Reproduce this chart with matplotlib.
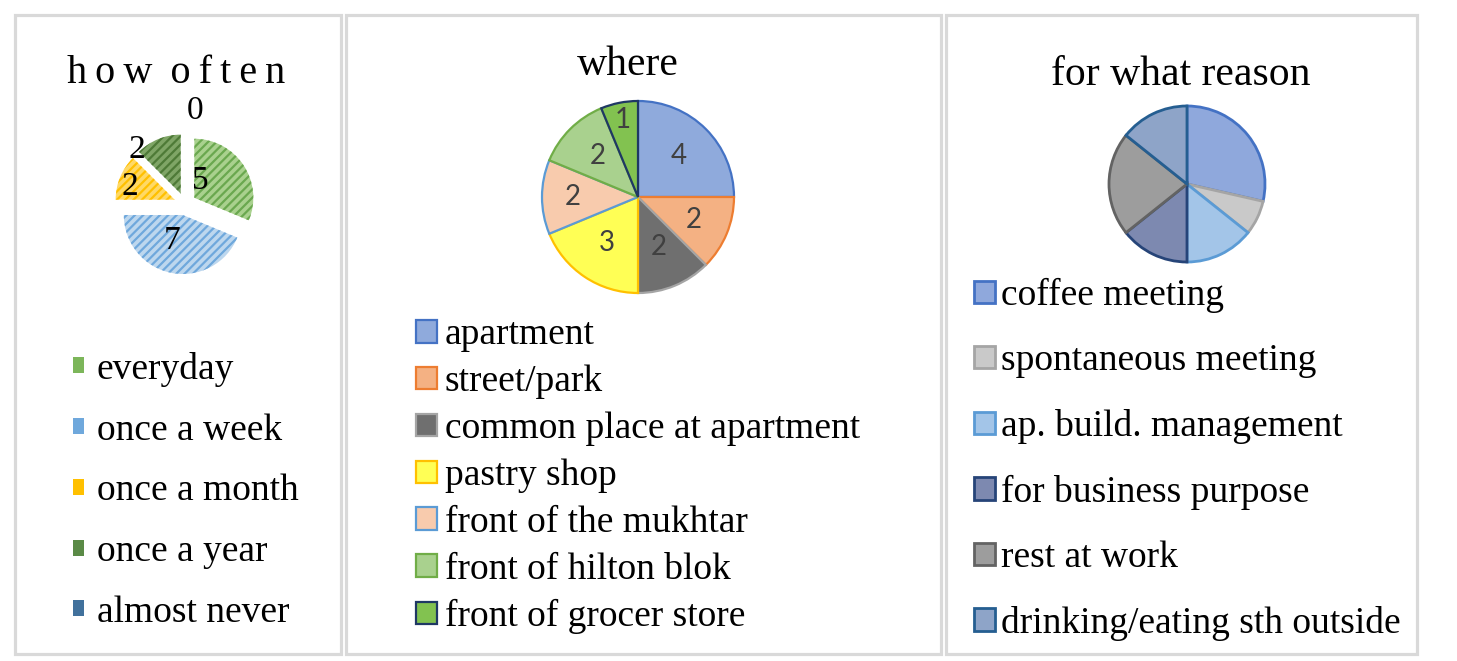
import numpy as np
import matplotlib
matplotlib.use("Agg")
import matplotlib.pyplot as plt
from matplotlib.patches import Rectangle, Patch

W, H = 1457, 661

# how often
freq_labels = ["everyday", "once a week", "once a month", "once a year", "almost never"]
freq_values = [5, 7, 2, 2, 0]
# where
place_labels = ["apartment", "street/park", "common place at apartment", "pastry shop",
                "front of the mukhtar", "front of hilton blok", "front of grocer store"]
place_values = [4, 2, 2, 3, 2, 2, 1]
# for what reason
reason_labels = ["coffee meeting", "spontaneous meeting", "ap. build. management",
                 "for business purpose", "rest at work", "drinking/eating sth outside"]
reason_values = [4, 1, 2, 2, 3, 2]

serif = ["Liberation Serif", "DejaVu Serif"]
plt.rcParams["hatch.linewidth"] = 1.6

fig = plt.figure(figsize=(W / 100, H / 100), dpi=100)
fig.patch.set_facecolor("white")


def fx(px):
    return px / W


def fy(py):
    return 1 - py / H


def pie_axes(cx, cy, half, r):
    ax = fig.add_axes([fx(cx - half), fy(cy + half), 2 * half / W, 2 * half / H])
    ax.lim = half / r
    return ax


def finish(ax):
    ax.set_xlim(-ax.lim, ax.lim)
    ax.set_ylim(-ax.lim, ax.lim)
    ax.axis("off")


# panel frames
grey = "#d9d9d9"
for x0, x1 in [(14.5, 340.5), (345.5, 940.5), (945.5, 1417)]:
    fig.add_artist(Rectangle((fx(x0), fy(653.5)), (x1 - x0) / W, (653.5 - 14.5) / H,
                             transform=fig.transFigure, fill=False, ec=grey, lw=2.3))

# ---- how often ----
freq_face = ["#a9d18e", "#bdd7ee", "#ffd966", "#7fa566", "#5b8ec4"]
freq_hatch = ["#6aa84f", "#6fa8dc", "#ffc000", "#4e7a37", "#2f5f97"]
freq_legend = ["#7cb65a", "#6fa8dc", "#ffc000", "#5a8a46", "#41719c"]

r1 = 59
ax1 = pie_axes(185, 204, 120, r1)
wedges, _ = ax1.pie(freq_values, startangle=90, counterclock=False, radius=1,
                    explode=[0.19] * len(freq_values), colors=freq_face)
for w, hc in zip(wedges, freq_hatch):
    w.set_hatch("////")
    w.set_edgecolor(hc)
    w.set_linewidth(0)
# best-fit style label placement: distance from slice centre and angle shift
label_dist = [0.3, 0.47, 0.8, 1.05, 1.4]
label_turn = [36, -12, 6, 22, -7]
for w, v, d, t in zip(wedges, freq_values, label_dist, label_turn):
    a = np.deg2rad((w.theta1 + w.theta2) / 2 + t)
    ax1.text(w.center[0] + d * np.cos(a), w.center[1] + d * np.sin(a), str(v),
             ha="center", va="center", family=serif, fontsize=24, color="black")
finish(ax1)
fig.text(fx(176), fy(83), "h\u2009o\u2009w \u2009o\u2009f\u2009t\u2009e\u2009n",
         ha="center", va="baseline", family=serif, fontsize=29)
ax1.legend([Patch(facecolor=c, edgecolor="none") for c in freq_legend], freq_labels,
           loc="upper left", bbox_to_anchor=(fx(73), fy(352)), bbox_transform=fig.transFigure,
           frameon=False, prop={"family": serif, "size": 27}, handlelength=0.28,
           handleheight=0.28, handletextpad=0.35, labelspacing=0.7, borderpad=0,
           borderaxespad=0)

# ---- where ----
place_face = ["#8faadc", "#f4b183", "#6f6f6f", "#ffff55", "#f8cbad", "#a9d18e", "#82c250"]
place_edge = ["#4472c4", "#ed7d31", "#a5a5a5", "#ffc000", "#5b9bd5", "#70ad47", "#1f3864"]
r2 = 96
ax2 = pie_axes(638, 197, 110, r2)
wedges, _ = ax2.pie(place_values, startangle=90, counterclock=False, radius=1,
                    colors=place_face, wedgeprops={"linewidth": 1.6})
for w, ec in zip(wedges, place_edge):
    w.set_edgecolor(ec)
label_dist = [0.6, 0.63, 0.56, 0.58, 0.68, 0.6, 0.82]
for w, v, d in zip(wedges, place_values, label_dist):
    a = np.deg2rad((w.theta1 + w.theta2) / 2)
    ax2.text(d * np.cos(a), d * np.sin(a), str(v), ha="center", va="center",
             family=["Lato", "DejaVu Sans"], fontsize=20, color="#404040")
finish(ax2)
fig.text(fx(628), fy(75), "where", ha="center", va="baseline", family=serif, fontsize=30)
ax2.legend(wedges, place_labels, loc="upper left", bbox_to_anchor=(fx(416), fy(318)),
           bbox_transform=fig.transFigure, frameon=False,
           prop={"family": serif, "size": 27}, handlelength=0.55, handleheight=0.55,
           handletextpad=0.22, labelspacing=0.33, borderpad=0, borderaxespad=0)

# ---- for what reason ----
reason_face = ["#8fa8dc", "#c9c9c9", "#a3c5e8", "#7d89b0", "#9d9d9d", "#8ea4c8"]
reason_edge = ["#4472c4", "#a5a5a5", "#5b9bd5", "#264478", "#636363", "#255e91"]
r3 = 78
ax3 = pie_axes(1187, 184, 90, r3)
wedges, _ = ax3.pie(reason_values, startangle=90, counterclock=False, radius=1,
                    colors=reason_face, wedgeprops={"linewidth": 2})
for w, ec in zip(wedges, reason_edge):
    w.set_edgecolor(ec)
finish(ax3)
fig.text(fx(1181), fy(85), "for what reason", ha="center", va="baseline", family=serif,
         fontsize=30)
ax3.legend(wedges, reason_labels, loc="upper left", bbox_to_anchor=(fx(974), fy(278)),
           bbox_transform=fig.transFigure, frameon=False,
           prop={"family": serif, "size": 27}, handlelength=0.55, handleheight=0.55,
           handletextpad=0.18, labelspacing=0.82, borderpad=0, borderaxespad=0)

fig.savefig("out.png", dpi=100)
